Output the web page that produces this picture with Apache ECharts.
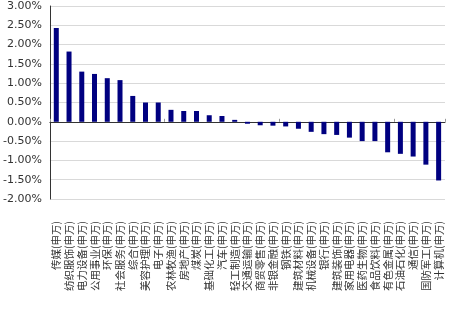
<!DOCTYPE html>
<html><head><meta charset="utf-8">
<script src="https://cdn.jsdelivr.net/npm/echarts@6/dist/echarts.min.js"></script>
<style>html,body{margin:0;padding:0;background:#fff}#c{width:472px;height:310px}</style>
</head><body><div id="c"></div>
<script>
const categories = ['传媒(申万)','纺织服饰(申万)','电力设备(申万)','公用事业(申万)','环保(申万)','社会服务(申万)','综合(申万)','美容护理(申万)','电子(申万)','农林牧渔(申万)','房地产(申万)','煤炭(申万)','基础化工(申万)','汽车(申万)','轻工制造(申万)','交通运输(申万)','商贸零售(申万)','非银金融(申万)','钢铁(申万)','建筑材料(申万)','机械设备(申万)','银行(申万)','建筑装饰(申万)','家用电器(申万)','医药生物(申万)','食品饮料(申万)','有色金属(申万)','石油石化(申万)','通信(申万)','国防军工(申万)','计算机(申万)'];
const values = [2.43,1.82,1.30,1.24,1.13,1.08,0.67,0.50,0.50,0.31,0.28,0.28,0.17,0.15,0.05,-0.05,-0.09,-0.10,-0.12,-0.18,-0.26,-0.32,-0.34,-0.41,-0.50,-0.50,-0.79,-0.83,-0.90,-1.11,-1.52];
const yMin = -2, yMax = 3, yStep = 0.5;

const chart = echarts.init(document.getElementById('c'));
const font = 'Noto Sans CJK SC';
chart.setOption({
  animation: false,
  grid: {left: 48, right: 27, top: 6, bottom: 111, containLabel: false},
  xAxis: [{
    type: 'category', data: categories, position: 'bottom',
    axisLine: {onZero: true, lineStyle: {color: '#333', width: 1}},
    axisTick: {show: true, inside: true, length: 3, lineStyle: {color: '#999'}},
    axisLabel: {show: false}
  },{
    type: 'category', data: categories, position: 'bottom',
    axisLine: {show: false, onZero: false},
    axisTick: {show: false},
    axisLabel: {show: true, rotate: 90, interval: 0, margin: 22, fontSize: 10.5, fontFamily: font, color: '#333'}
  }],
  yAxis: {
    type: 'value', min: yMin, max: yMax, interval: yStep,
    axisLine: {show: true, lineStyle: {color: '#333'}},
    axisTick: {show: false},
    splitLine: {lineStyle: {color: '#d9d9d9'}},
    axisLabel: {margin: 8, fontSize: 11, fontFamily: 'DejaVu Sans', color: '#333',
      formatter: v => v.toFixed(2) + '%'}
  },
  series: [{
    type: 'bar', data: values, xAxisIndex: 0, barWidth: 5,
    itemStyle: {color: '#000080'}
  }]
});
</script></body></html>
